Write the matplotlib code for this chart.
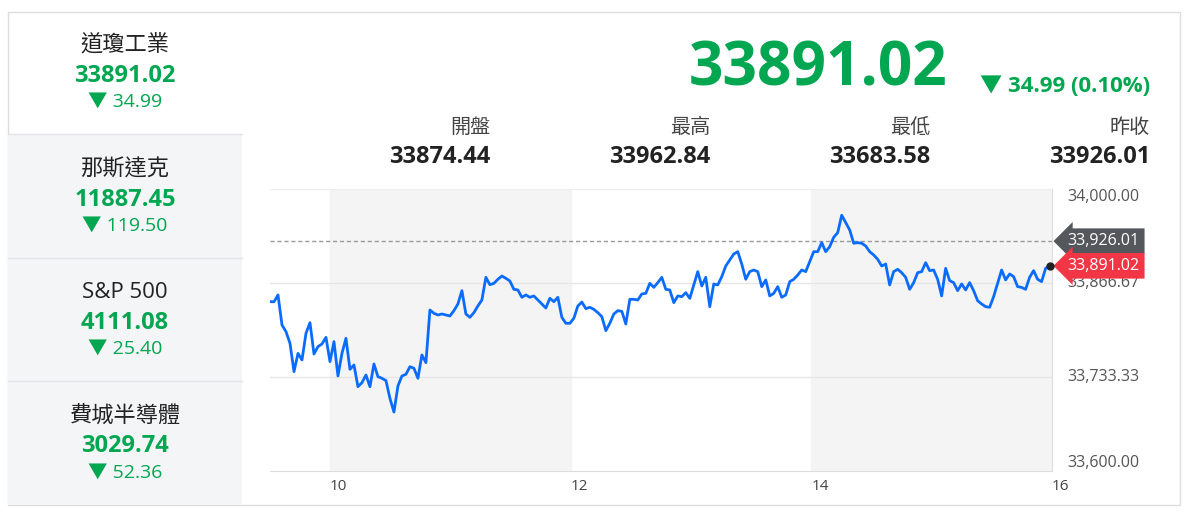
import matplotlib
matplotlib.use("Agg")
import matplotlib.pyplot as plt
import matplotlib.patches as mpatches
import numpy as np

plt.rcParams["font.family"] = ["Open Sans", "Noto Sans CJK TC", "DejaVu Sans"]

W, H = 1187, 512
GREEN = "#00a650"
BLUE = "#0a6cff"
DARK = "#222222"

# sidebar indices
index_names = ["道瓊工業", "那斯達克", "S&P 500", "費城半導體"]
index_values = ["33891.02", "11887.45", "4111.08", "3029.74"]
index_changes = ["34.99", "119.50", "25.40", "52.36"]

last_price = "33891.02"
last_change = "34.99 (0.10%)"
stat_labels = ["開盤", "最高", "最低", "昨收"]
stat_values = ["33874.44", "33962.84", "33683.58", "33926.01"]
prev_close = 33926.01
last_value = 33891.02

# intraday prices, 2-minute steps from 9:30
prices = [
    33840.2, 33840.0, 33849.7, 33807.1, 33797.7, 33781.1, 33740.9, 33766.9, 33757.5, 33795.3,
    33810.4, 33766.0, 33776.4, 33780.2, 33789.6, 33755.1, 33783.5, 33734.8, 33766.9, 33788.2,
    33744.2, 33750.4, 33719.6, 33725.3, 33736.2, 33719.6, 33751.8, 33733.8, 33731.5, 33728.2,
    33703.1, 33683.6, 33720.6, 33734.8, 33737.1, 33748.0, 33745.7, 33731.5, 33764.6, 33753.7,
    33828.4, 33823.7, 33821.3, 33822.7, 33821.3, 33819.9, 33827.4, 33836.9, 33855.8, 33822.7,
    33818.0, 33824.6, 33834.1, 33842.6, 33874.7, 33864.3, 33866.2, 33871.9, 33876.6, 33873.3,
    33869.5, 33857.7, 33856.8, 33846.4, 33849.7, 33846.4, 33848.3, 33842.6, 33836.9, 33831.2,
    33845.0, 33840.2, 33846.4, 33818.0, 33809.5, 33809.5, 33816.6, 33834.1, 33839.7, 33830.3,
    33832.2, 33829.3, 33824.6, 33818.9, 33799.1, 33809.5, 33822.7, 33827.4, 33826.5, 33808.5,
    33843.5, 33843.5, 33842.6, 33851.1, 33852.0, 33866.2, 33860.5, 33867.2,
    33874.7, 33857.7, 33856.8, 33838.8, 33848.3, 33847.3, 33853.0, 33844.9, 33863.9, 33882.8,
    33862.4, 33874.7, 33833.1, 33865.3, 33863.9, 33875.7, 33890.8, 33899.3, 33907.8, 33911.1,
    33893.6, 33871.9, 33882.8, 33885.1, 33882.8, 33861.5, 33871.0, 33848.3, 33852.0, 33861.5,
    33846.4, 33849.7, 33868.6, 33871.9, 33878.0, 33885.1, 33882.8, 33897.0, 33911.1, 33911.1,
    33923.9, 33911.1, 33918.2, 33931.5, 33938.1, 33962.8, 33952.3, 33941.9, 33923.0, 33923.9,
    33923.0, 33919.2, 33911.1, 33906.4, 33900.3, 33890.8, 33893.6, 33863.9, 33882.8, 33886.1,
    33881.3, 33874.7, 33857.7, 33867.2, 33881.3, 33882.8, 33895.5, 33884.2, 33885.1, 33871.9,
    33848.3, 33887.5, 33870.0, 33867.2, 33855.8, 33865.3, 33856.8, 33867.2, 33855.8, 33841.6,
    33836.9, 33833.1, 33832.2, 33847.3, 33866.2, 33885.1, 33871.0, 33879.5, 33875.7, 33861.5,
    33860.5, 33857.7, 33874.7, 33884.2, 33872.0, 33868.6, 33887.5, 33891.02,
]
times = np.linspace(9.5, 15.98, len(prices))
y_ticks = [34000.00, 33866.67, 33733.33, 33600.00]
x_ticks = [10, 12, 14, 16]


def fx(x):
    return x / W


def fy(y):
    return 1 - y / H


fig = plt.figure(figsize=(W / 100, H / 100), dpi=100)

# outer frame and sidebar
fig.patches.append(mpatches.Rectangle((fx(8), fy(505)), fx(1172), 493 / H, transform=fig.transFigure,
                                      fill=False, edgecolor="#dddddd", lw=1))
fig.patches.append(mpatches.Rectangle((fx(8), fy(505)), fx(234), 371 / H, transform=fig.transFigure,
                                      facecolor="#f4f5f7", edgecolor="none"))
for yy in [134, 258, 381]:
    fig.add_artist(plt.Line2D([fx(8), fx(242)], [fy(yy), fy(yy)], color="#e2e3e6", lw=1))
for i in range(4):
    y0 = 46 + i * 123.5
    fig.text(fx(125), fy(y0), index_names[i], ha="center", va="center", fontsize=16, color=DARK)
    fig.text(fx(125), fy(y0 + 30), index_values[i], ha="center", va="center", fontsize=17,
             color=GREEN, fontweight="bold")
    fig.text(fx(125), fy(y0 + 56), "▼ " + index_changes[i], ha="center", va="center", fontsize=14,
             color=GREEN)

# header
fig.text(fx(818), fy(70), last_price, ha="center", va="center", fontsize=43.5, color=GREEN, fontweight="bold")
fig.text(fx(1150), fy(86), "▼ " + last_change, ha="right", va="center", fontsize=16, color=GREEN,
         fontweight="bold")
for i, (lab, val) in enumerate(zip(stat_labels, stat_values)):
    xr = 490 + i * 220
    fig.text(fx(xr), fy(128), lab, ha="right", va="center", fontsize=14.5, color="#444444")
    fig.text(fx(xr), fy(157), val, ha="right", va="center", fontsize=17, color=DARK, fontweight="bold")

# chart
ax = fig.add_axes([fx(270), fy(471), fx(1052 - 270), (471 - 189) / H])
ax.set_xlim(9.5, 16)
ax.set_ylim(33600, 34000)
ax.axvspan(10, 12, color="#f4f4f4", zorder=0)
ax.axvspan(14, 16, color="#f4f4f4", zorder=0)
for v in y_ticks[1:3]:
    ax.axhline(v, color="#e6e6e6", lw=1, zorder=1)
ax.axhline(34000, color="#eeeeee", lw=1, zorder=1)
ax.axhline(prev_close, color="#999999", lw=1, ls=(0, (3, 2)), zorder=2)
ax.plot(times, prices, color=BLUE, lw=2, zorder=3)
ax.plot(times[-1], prices[-1], "o", color="#222222", ms=5, zorder=4, clip_on=False)
for s in ["top", "left"]:
    ax.spines[s].set_visible(False)
ax.spines["bottom"].set_color("#dddddd")
ax.spines["right"].set_color("#dddddd")
ax.set_yticks([])
ax.set_xticks(x_ticks)
ax.set_xticklabels([str(t) for t in x_ticks], ha="left", fontsize=11, color="#444444")
ax.tick_params(axis="x", length=0, pad=6)

trans = ax.get_yaxis_transform()
vas = ["top", "center", "center", "bottom"]
for v, va in zip(y_ticks, vas):
    ax.text(1.02, v, f"{v:,.2f}", transform=trans, ha="left", va=va, fontsize=11.5, color="#555555",
            clip_on=False)

# price flags
for val, col in [(prev_close, "#54575c"), (last_value, "#f23645")]:
    ax.annotate(f"{val:,.2f}", xy=(1.004, val), xycoords=trans, xytext=(1.02, val), textcoords=trans,
                ha="left", va="center", fontsize=11.5, color="white",
                bbox=dict(boxstyle="larrow,pad=0.3", fc=col, ec="none"))

fig.savefig("out.png", dpi=100)
